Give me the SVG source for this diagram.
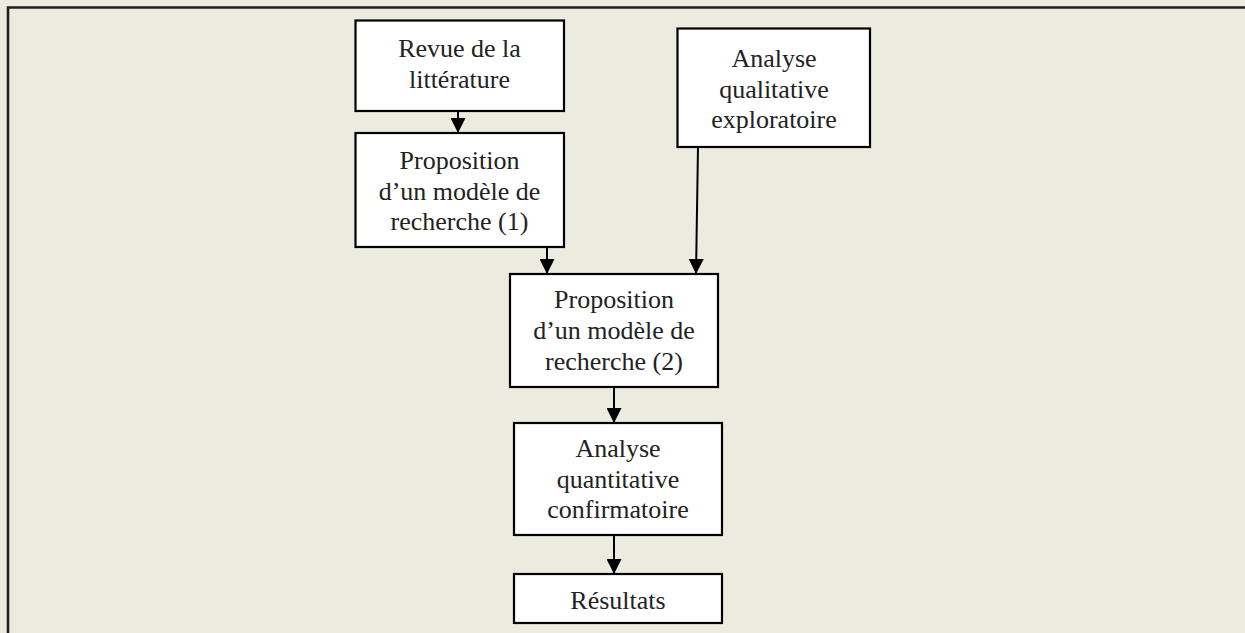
<svg xmlns="http://www.w3.org/2000/svg" width="1245" height="633" viewBox="0 0 1245 633">
  <defs>
    <style>
      .box { fill: #ffffff; stroke: #000000; stroke-width: 2.2; }
      .lbl { font-family: "Liberation Serif", "Times New Roman", serif; font-size: 26px; fill: #222222; text-anchor: middle; }
      .edge { stroke: #000000; stroke-width: 2; fill: none; marker-end: url(#arrow); }
      .frame { stroke: #1e1e1e; stroke-width: 2.6; fill: none; }
    </style>
    <marker id="arrow" markerWidth="15" markerHeight="15" refX="15" refY="7.5" orient="auto" markerUnits="userSpaceOnUse">
      <path d="M0,0 L15,7.5 L0,15 Z" fill="#000000"/>
    </marker>
  </defs>

  <!-- background panel with top and left rules -->
  <rect x="0" y="0" width="1245" height="633" fill="#ecebdf"/>
  <path class="frame" d="M8,633 L8,7.5 L1245,7.5"/>

  <!-- connectors -->
  <g id="connectors">
    <line class="edge" x1="458" y1="111" x2="458" y2="133"/>
    <line class="edge" x1="547" y1="247" x2="547" y2="274"/>
    <line class="edge" x1="698" y1="147" x2="696" y2="274"/>
    <line class="edge" x1="614" y1="387" x2="614" y2="423"/>
    <line class="edge" x1="614" y1="535" x2="614" y2="574"/>
  </g>

  <g id="revue">
    <rect class="box" x="355.5" y="20.5" width="208.5" height="90.5"/>
    <text class="lbl" x="459.5" y="57">Revue de la</text>
    <text class="lbl" x="459.5" y="88">littérature</text>
  </g>

  <g id="modele1">
    <rect class="box" x="355.5" y="133" width="208.5" height="114"/>
    <text class="lbl" x="459.5" y="169">Proposition</text>
    <text class="lbl" x="459.5" y="199.5">d’un modèle de</text>
    <text class="lbl" x="459.5" y="230">recherche (1)</text>
  </g>

  <g id="qualitative">
    <rect class="box" x="677.5" y="28.5" width="192.5" height="118.5"/>
    <text class="lbl" x="774" y="67">Analyse</text>
    <text class="lbl" x="774" y="97.5">qualitative</text>
    <text class="lbl" x="774" y="128">exploratoire</text>
  </g>

  <g id="modele2">
    <rect class="box" x="510" y="274" width="208" height="113"/>
    <text class="lbl" x="614" y="308">Proposition</text>
    <text class="lbl" x="614" y="339">d’un modèle de</text>
    <text class="lbl" x="614" y="369.5">recherche (2)</text>
  </g>

  <g id="quantitative">
    <rect class="box" x="514" y="423" width="208" height="112"/>
    <text class="lbl" x="618" y="457">Analyse</text>
    <text class="lbl" x="618" y="488">quantitative</text>
    <text class="lbl" x="618" y="518">confirmatoire</text>
  </g>

  <g id="resultats">
    <rect class="box" x="514" y="574" width="208" height="49"/>
    <text class="lbl" x="618" y="609">Résultats</text>
  </g>
</svg>
